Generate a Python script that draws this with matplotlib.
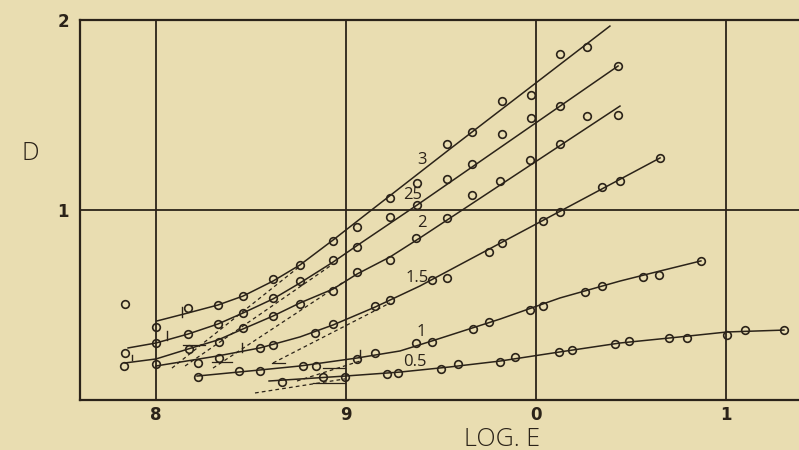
import matplotlib.pyplot as plt

# colours of the old printed page
paper = '#e9ddb1'
ink = '#2b2319'

# x axis is log E (bar notation: 8 = -2, 9 = -1)
xtick_pos = [-2, -1, 0, 1]
xtick_labels = ['8', '9', '0', '1']
ytick_pos = [1, 2]
ytick_labels = ['1', '2']

# development time 3
pts3_x = [-2.163, -2.0, -1.832, -1.674, -1.542, -1.384, -1.242, -1.068, -0.942,
          -0.768, -0.626, -0.468, -0.337, -0.179, -0.026, 0.126, 0.268]
pts3_y = [0.505, 0.384, 0.484, 0.5, 0.547, 0.637, 0.711, 0.837, 0.911,
          1.063, 1.142, 1.347, 1.411, 1.574, 1.605, 1.821, 1.858]
curve3_x = [-1.995, -1.832, -1.674, -1.542, -1.384, -1.242, -1.068, -0.926, -0.453, 0.389]
curve3_y = [0.416, 0.458, 0.5, 0.547, 0.626, 0.711, 0.842, 0.953, 1.321, 1.968]

# development time 2.5
pts25_x = [-2.163, -2.0, -1.832, -1.674, -1.542, -1.384, -1.242, -1.068, -0.942,
           -0.768, -0.626, -0.468, -0.337, -0.179, -0.026, 0.126, 0.432]
pts25_y = [0.247, 0.3, 0.347, 0.4, 0.458, 0.537, 0.626, 0.737, 0.805,
           0.963, 1.026, 1.163, 1.242, 1.4, 1.484, 1.547, 1.758]
curve25_x = [-2.147, -2.0, -1.832, -1.674, -1.542, -1.384, -1.242, -1.068, -0.937, -0.626, 0.432]
curve25_y = [0.274, 0.3, 0.347, 0.4, 0.458, 0.532, 0.616, 0.726, 0.816, 1.026, 1.758]

# development time 2
pts2_x = [-2.168, -2.0, -1.826, -1.668, -1.542, -1.384, -1.242, -1.068, -0.942,
          -0.768, -0.632, -0.468, -0.337, -0.189, -0.032, 0.126, 0.268, 0.432]
pts2_y = [0.179, 0.189, 0.268, 0.305, 0.379, 0.442, 0.505, 0.574, 0.674,
          0.737, 0.853, 0.958, 1.079, 1.153, 1.263, 1.347, 1.495, 1.5]
curve2_x = [-2.163, -2.0, -1.832, -1.674, -1.542, -1.384, -1.242, -1.068, -0.942, -0.768, -0.611, 0.442]
curve2_y = [0.195, 0.216, 0.268, 0.316, 0.374, 0.442, 0.511, 0.584, 0.663, 0.753, 0.853, 1.547]

# development time 1.5
pts15_x = [-1.779, -1.668, -1.453, -1.384, -1.163, -1.068, -0.847, -0.768, -0.547,
           -0.468, -0.247, -0.179, 0.037, 0.126, 0.347, 0.442, 0.653]
pts15_y = [0.195, 0.221, 0.274, 0.289, 0.353, 0.4, 0.495, 0.526, 0.632,
           0.642, 0.779, 0.826, 0.942, 0.989, 1.121, 1.153, 1.274]
curve15_x = [-2.0, -1.674, -1.453, -1.242, -1.068, -0.847, -0.611, 0.653]
curve15_y = [0.179, 0.232, 0.274, 0.332, 0.395, 0.489, 0.6, 1.274]

# development time 1
pts1_x = [-1.779, -1.563, -1.453, -1.226, -1.158, -0.942, -0.847, -0.632, -0.547,
          -0.332, -0.247, -0.032, 0.037, 0.258, 0.347, 0.563, 0.647, 0.868]
pts1_y = [0.121, 0.153, 0.153, 0.179, 0.179, 0.216, 0.247, 0.3, 0.305,
          0.374, 0.411, 0.474, 0.495, 0.568, 0.6, 0.647, 0.658, 0.732]
curve1_x = [-1.784, -1.453, -1.242, -0.942, -0.716, -0.547, -0.189, 0.126, 0.442, 0.653, 0.868]
curve1_y = [0.126, 0.158, 0.179, 0.221, 0.258, 0.311, 0.426, 0.537, 0.626, 0.679, 0.732]

# development time 0.5
pts05_x = [-1.337, -1.121, -1.005, -0.784, -0.726, -0.5, -0.411, -0.189, -0.111,
           0.121, 0.189, 0.416, 0.489, 0.7, 0.795, 1.005, 1.1, 1.305]
pts05_y = [0.095, 0.121, 0.121, 0.137, 0.142, 0.163, 0.189, 0.2, 0.226,
           0.253, 0.263, 0.295, 0.311, 0.326, 0.326, 0.342, 0.368, 0.368]
curve05_x = [-1.405, -1.005, -0.716, -0.453, -0.189, 0.126, 0.442, 0.758, 1.005, 1.305]
curve05_y = [0.1, 0.126, 0.147, 0.174, 0.205, 0.253, 0.3, 0.332, 0.358, 0.368]

# dashed tangents of the straight parts, drawn down to the fog level
tan_x = [[-1.916, -1.242], [-1.847, -1.084], [-1.7, -1.005],
         [-1.384, -0.768], [-1.258, -0.926], [-1.479, -1.005]]
tan_y = [[0.168, 0.705], [0.179, 0.705], [0.168, 0.626],
         [0.195, 0.511], [0.1, 0.205], [0.037, 0.111]]

# short fog-level strokes
fog_x = [[-1.86, -1.74], [-1.707, -1.602], [-1.391, -1.321], [-1.174, -1.005], [-1.121, -1.005]]
fog_y = [0.29, 0.198, 0.193, 0.091, 0.17]

# small vertical marks on the curves
mark_x = [-1.865, -1.944, -2.128, -1.549, -0.926]
mark_y0 = [0.437, 0.316, 0.211, 0.253, 0.221]
mark_y1 = [0.489, 0.363, 0.237, 0.3, 0.263]

curve_labels = ['3', '25', '2', '1.5', '1', '0.5']
label_x = [-0.6, -0.647, -0.603, -0.628, -0.603, -0.637]
label_y = [1.263, 1.079, 0.93, 0.64, 0.36, 0.2]

fig = plt.figure(figsize=(7.99, 4.5), dpi=100, facecolor=paper)
ax = fig.add_axes([80 / 799, 50 / 450, 722 / 799, 380 / 450])
ax.set_facecolor(paper)
ax.set_xlim(-2.4, 1.4)
ax.set_ylim(0, 2)

for s in ax.spines.values():
    s.set_color(ink)
    s.set_linewidth(1.6)

for x in xtick_pos:
    ax.axvline(x, color=ink, lw=1.3, zorder=1)
ax.axhline(1, color=ink, lw=1.3, zorder=1)

ax.set_xticks(xtick_pos)
ax.set_xticklabels(xtick_labels, fontsize=12, fontweight='bold', color=ink)
ax.set_yticks(ytick_pos)
ax.set_yticklabels(ytick_labels, fontsize=12, fontweight='bold', color=ink)
ax.tick_params(length=0, pad=4)
ax.tick_params(axis='y', pad=8)

curves = [(curve3_x, curve3_y, pts3_x, pts3_y),
          (curve25_x, curve25_y, pts25_x, pts25_y),
          (curve2_x, curve2_y, pts2_x, pts2_y),
          (curve15_x, curve15_y, pts15_x, pts15_y),
          (curve1_x, curve1_y, pts1_x, pts1_y),
          (curve05_x, curve05_y, pts05_x, pts05_y)]

for cx, cy, px, py in curves:
    ax.plot(cx, cy, '-', color=ink, lw=1.1, zorder=3)
    ax.plot(px, py, 'o', mfc='none', mec=ink, ms=5.5, mew=1.2, zorder=4)

for tx, ty in zip(tan_x, tan_y):
    ax.plot(tx, ty, color=ink, lw=0.9, ls=(0, (3, 2.5)), zorder=2)

for fx, fy in zip(fog_x, fog_y):
    ax.plot(fx, [fy, fy], color=ink, lw=0.9, zorder=2)

for mx, y0, y1 in zip(mark_x, mark_y0, mark_y1):
    ax.plot([mx, mx], [y0, y1], color=ink, lw=1.0, zorder=3)

for lab, lx, ly in zip(curve_labels, label_x, label_y):
    ax.text(lx, ly, lab, fontsize=12, color=ink, ha='center', va='center',
            family='Open Sans', zorder=5)

fig.text(30 / 799, 1 - 153 / 450, 'D', fontsize=18, color=ink, ha='center', va='center',
         family='Open Sans', fontweight='light')
fig.text(502 / 799, 1 - 439 / 450, 'LOG. E', fontsize=18, color=ink, ha='center', va='center',
         family='Open Sans', fontweight='light')

fig.savefig('out.png', dpi=100, facecolor=paper)
